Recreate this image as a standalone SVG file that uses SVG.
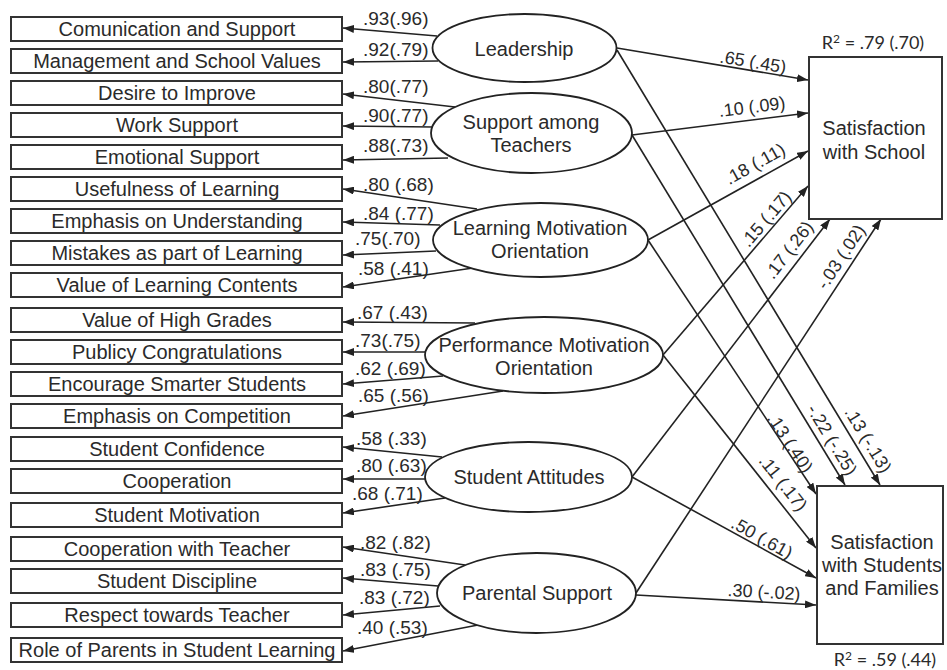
<svg xmlns="http://www.w3.org/2000/svg" width="947" height="670" viewBox="0 0 947 670">
<style>
.bx{fill:#fff;stroke:#333;stroke-width:2}
.el{fill:#fff;stroke:#222;stroke-width:1.8}
.t{font-family:"Liberation Sans",Arial,sans-serif;font-size:20px;fill:#2a2a2a;text-anchor:middle}
.c{font-family:"Liberation Sans",Arial,sans-serif;font-size:19px;fill:#2a2a2a}
.s{font-family:"Liberation Sans",Arial,sans-serif;font-size:18px;fill:#2a2a2a;text-anchor:middle}
.r{font-family:Lato,"Open Sans",sans-serif;font-size:18px;fill:#2a2a2a;text-anchor:middle}
.sup{font-size:12px}
.ln{stroke:#222;stroke-width:1.6;fill:none;marker-end:url(#ah)}
</style>
<defs>
<marker id="ah" viewBox="0 0 11 8" refX="11" refY="4" markerWidth="11" markerHeight="8" markerUnits="userSpaceOnUse" orient="auto"><path d="M0,0 L11,4 L0,8 z" fill="#222"/></marker>
</defs>
<rect width="947" height="670" fill="#fff"/>
<g id="connectors">
<line class="ln" x1="437" y1="36" x2="343" y2="28"/>
<line class="ln" x1="438" y1="61" x2="343" y2="62"/>
<line class="ln" x1="455" y1="107" x2="343" y2="94"/>
<line class="ln" x1="433" y1="127" x2="343" y2="126"/>
<line class="ln" x1="448" y1="158" x2="343" y2="160"/>
<line class="ln" x1="477" y1="209" x2="343" y2="189"/>
<line class="ln" x1="440" y1="225" x2="343" y2="222"/>
<line class="ln" x1="436" y1="251" x2="343" y2="255"/>
<line class="ln" x1="473" y1="268" x2="343" y2="287"/>
<line class="ln" x1="475" y1="323" x2="343" y2="322"/>
<line class="ln" x1="427" y1="352" x2="343" y2="352"/>
<line class="ln" x1="443" y1="376" x2="343" y2="384"/>
<line class="ln" x1="503" y1="391" x2="343" y2="416"/>
<line class="ln" x1="442" y1="457" x2="343" y2="447"/>
<line class="ln" x1="427" y1="479" x2="343" y2="479"/>
<line class="ln" x1="445" y1="498" x2="343" y2="513"/>
<line class="ln" x1="465" y1="565" x2="343" y2="547"/>
<line class="ln" x1="438" y1="586" x2="343" y2="578"/>
<line class="ln" x1="440" y1="606" x2="343" y2="615"/>
<line class="ln" x1="478" y1="625" x2="343" y2="651"/>
<line class="ln" x1="617" y1="48" x2="808" y2="80"/>
<line class="ln" x1="617" y1="50" x2="880" y2="485"/>
<line class="ln" x1="632" y1="135" x2="808" y2="113"/>
<line class="ln" x1="632" y1="135" x2="845" y2="485"/>
<line class="ln" x1="648" y1="240" x2="808" y2="151"/>
<line class="ln" x1="648" y1="240" x2="816" y2="494"/>
<line class="ln" x1="663" y1="355" x2="808" y2="186"/>
<line class="ln" x1="663" y1="355" x2="816" y2="548"/>
<line class="ln" x1="632" y1="477" x2="830" y2="219"/>
<line class="ln" x1="636" y1="593" x2="881" y2="219"/>
<line class="ln" x1="632" y1="477" x2="816" y2="578"/>
<line class="ln" x1="636" y1="595" x2="816" y2="605"/>
<g class="c">
<text x="363" y="25">.93(.96)</text>
<text x="363" y="56">.92(.79)</text>
<text x="363" y="93">.80(.77)</text>
<text x="363" y="122">.90(.77)</text>
<text x="363" y="152">.88(.73)</text>
<text x="363" y="191">.80 (.68)</text>
<text x="363" y="220">.84 (.77)</text>
<text x="355" y="245">.75(.70)</text>
<text x="358" y="275">.58 (.41)</text>
<text x="357" y="319">.67 (.43)</text>
<text x="355" y="347">.73(.75)</text>
<text x="355" y="375">.62 (.69)</text>
<text x="358" y="402">.65 (.56)</text>
<text x="356" y="445">.58 (.33)</text>
<text x="356" y="472">.80 (.63)</text>
<text x="352" y="500">.68 (.71)</text>
<text x="360" y="549">.82 (.82)</text>
<text x="360" y="576">.83 (.75)</text>
<text x="359" y="604">.83 (.72)</text>
<text x="357" y="634">.40 (.53)</text>
</g>
<g class="s">
<text transform="translate(753,62) rotate(9.5)" dy="6">.65 (.45)</text>
<text transform="translate(752,107) rotate(-7.1)" dy="6">.10 (.09)</text>
<text transform="translate(755,164) rotate(-29)" dy="6">.18 (.11)</text>
<text transform="translate(766,219) rotate(-49.4)" dy="6">.15 (.17)</text>
<text transform="translate(789,250) rotate(-52.5)" dy="6">.17 (.26)</text>
<text transform="translate(841,257) rotate(-56.8)" dy="6">-.03 (.02)</text>
<text transform="translate(790,443) rotate(56.5)" dy="6">.13 (.40)</text>
<text transform="translate(832,440) rotate(58.7)" dy="6">-.22 (-.25)</text>
<text transform="translate(868,440) rotate(58.8)" dy="6">.13 (-.13)</text>
<text transform="translate(783,483) rotate(51.6)" dy="6">.11 (.17)</text>
<text transform="translate(762,538) rotate(29.2)" dy="6">.50 (.61)</text>
<text transform="translate(764,592) rotate(3.3)" dy="6">.30 (-.02)</text>
</g>
</g>
<g id="indicators">
<g id="n1"><rect class="bx" x="11" y="17" width="331" height="24"/><text class="t" x="177" y="36">Comunication and Support</text></g>
<g id="n2"><rect class="bx" x="11" y="49" width="331" height="24"/><text class="t" x="177" y="68">Management and School Values</text></g>
<g id="n3"><rect class="bx" x="11" y="81" width="331" height="24"/><text class="t" x="177" y="100">Desire to Improve</text></g>
<g id="n4"><rect class="bx" x="11" y="113" width="331" height="24"/><text class="t" x="177" y="132">Work Support</text></g>
<g id="n5"><rect class="bx" x="11" y="145" width="331" height="24"/><text class="t" x="177" y="164">Emotional Support</text></g>
<g id="n6"><rect class="bx" x="11" y="177" width="331" height="24"/><text class="t" x="177" y="196">Usefulness of Learning</text></g>
<g id="n7"><rect class="bx" x="11" y="209" width="331" height="24"/><text class="t" x="177" y="228">Emphasis on Understanding</text></g>
<g id="n8"><rect class="bx" x="11" y="241" width="331" height="24"/><text class="t" x="177" y="260">Mistakes as part of Learning</text></g>
<g id="n9"><rect class="bx" x="11" y="273" width="331" height="24"/><text class="t" x="177" y="292">Value of Learning Contents</text></g>
<g id="n10"><rect class="bx" x="11" y="308" width="331" height="24"/><text class="t" x="177" y="327">Value of High Grades</text></g>
<g id="n11"><rect class="bx" x="11" y="340" width="331" height="24"/><text class="t" x="177" y="359">Publicy Congratulations</text></g>
<g id="n12"><rect class="bx" x="11" y="372" width="331" height="24"/><text class="t" x="177" y="391">Encourage Smarter Students</text></g>
<g id="n13"><rect class="bx" x="11" y="404" width="331" height="24"/><text class="t" x="177" y="423">Emphasis on Competition</text></g>
<g id="n14"><rect class="bx" x="11" y="437" width="331" height="24"/><text class="t" x="177" y="456">Student Confidence</text></g>
<g id="n15"><rect class="bx" x="11" y="469" width="331" height="24"/><text class="t" x="177" y="488">Cooperation</text></g>
<g id="n16"><rect class="bx" x="11" y="503" width="331" height="24"/><text class="t" x="177" y="522">Student Motivation</text></g>
<g id="n17"><rect class="bx" x="11" y="537" width="331" height="24"/><text class="t" x="177" y="556">Cooperation with Teacher</text></g>
<g id="n18"><rect class="bx" x="11" y="569" width="331" height="24"/><text class="t" x="177" y="588">Student Discipline</text></g>
<g id="n19"><rect class="bx" x="11" y="603" width="331" height="24"/><text class="t" x="177" y="622">Respect towards Teacher</text></g>
<g id="n20"><rect class="bx" x="11" y="638" width="331" height="24"/><text class="t" x="177" y="657">Role of Parents in Student Learning</text></g>
</g>
<g id="latents">
<g id="leadership"><ellipse class="el" cx="524.5" cy="48" rx="92" ry="34"/><text class="t" x="524" y="56">Leadership</text></g>
<g id="support"><ellipse class="el" cx="531.5" cy="133" rx="100.5" ry="40"/><text class="t" x="531" y="129">Support among</text><text class="t" x="531" y="152">Teachers</text></g>
<g id="learning"><ellipse class="el" cx="540.5" cy="240" rx="107.5" ry="37"/><text class="t" x="540" y="235">Learning Motivation</text><text class="t" x="540" y="258">Orientation</text></g>
<g id="performance"><ellipse class="el" cx="544" cy="355" rx="119" ry="38"/><text class="t" x="544" y="352">Performance Motivation</text><text class="t" x="544" y="375">Orientation</text></g>
<g id="attitudes"><ellipse class="el" cx="528.5" cy="477" rx="103.5" ry="35"/><text class="t" x="529" y="484">Student Attitudes</text></g>
<g id="parental"><ellipse class="el" cx="536.5" cy="593" rx="99.5" ry="40"/><text class="t" x="537" y="600">Parental Support</text></g>
</g>
<g id="school"><rect class="bx" x="809" y="57" width="133" height="162"/><text class="t" x="874" y="135">Satisfaction</text><text class="t" x="874" y="159">with School</text><text class="r" x="873" y="49">R<tspan class="sup" dy="-6">2</tspan><tspan dy="6"> = .79 (.70)</tspan></text></g>
<g id="families"><rect class="bx" x="817" y="486" width="126" height="158"/><text class="t" x="882" y="549">Satisfaction</text><text class="t" x="882" y="572">with Students</text><text class="t" x="882" y="595">and Families</text><text class="r" x="885" y="666">R<tspan class="sup" dy="-6">2</tspan><tspan dy="6"> = .59 (.44)</tspan></text></g>
</svg>
